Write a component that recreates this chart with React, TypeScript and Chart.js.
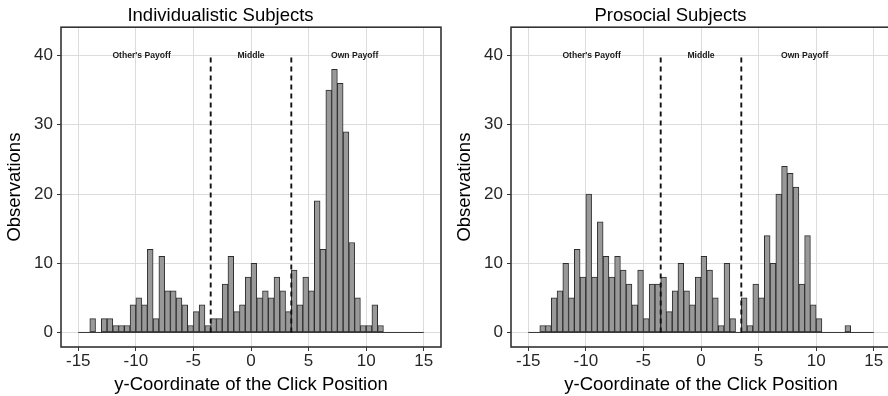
import React, { useEffect, useRef } from 'react';
import { Chart, registerables } from 'chart.js';

Chart.register(...registerables);

// ---- data ----
const binStart = -15;
const binWidth = 0.5;

// counts per 0.5-wide bin from -15 to 15 (60 bins)
const individualisticCounts = [
  0, 0, 2, 0, 2, 2, 1, 1, 1, 4,
  5, 4, 12, 2, 11, 6, 6, 5, 4, 1,
  3, 4, 1, 2, 2, 7, 11, 3, 4, 8,
  10, 5, 6, 5, 8, 6, 3, 9, 4, 8,
  6, 19, 12, 35, 38, 36, 29, 13, 5, 1,
  1, 4, 1, 0, 0, 0, 0, 0, 0, 0,
];

const prosocialCounts = [
  0, 0, 1, 1, 5, 6, 10, 5, 12, 8,
  20, 8, 16, 11, 8, 11, 9, 7, 4, 9,
  2, 7, 7, 8, 3, 6, 10, 6, 4, 8,
  11, 9, 5, 1, 10, 2, 0, 5, 1, 7,
  5, 14, 10, 20, 24, 23, 21, 7, 14, 4,
  2, 0, 0, 0, 0, 1, 0, 0, 0, 0,
];

const panelTitles = ['Individualistic Subjects', 'Prosocial Subjects'];
const xTitle = 'y-Coordinate of the Click Position';
const yTitle = 'Observations';

const dividerX = [-3.5, 3.5];
const dividerTop = 40.2;
const regionLabels = ["Other's Payoff", 'Middle', 'Own Payoff'];
const regionLabelX = [-9.5, 0, 9];
const regionLabelY = 40;

const xMin = -16.5;
const xMax = 16.5;
const xStep = 5;
const yMin = -2.1;
const yMax = 44.1;
const yStep = 10;

const FONT = '"Liberation Sans", Arial, Helvetica, sans-serif';

const decorPlugin = {
  id: 'panelDecor',
  afterDraw(chart: any) {
    const { ctx, chartArea } = chart;
    const x = chart.scales.x;
    const y = chart.scales.y;
    ctx.save();
    ctx.font = `bold 8.6px ${FONT}`;
    ctx.fillStyle = '#1a1a1a';
    ctx.textAlign = 'center';
    ctx.textBaseline = 'middle';
    regionLabels.forEach((t, i) => {
      ctx.fillText(t, x.getPixelForValue(regionLabelX[i]), y.getPixelForValue(regionLabelY));
    });
    ctx.strokeStyle = '#333';
    ctx.lineWidth = 1.6;
    ctx.strokeRect(chartArea.left, chartArea.top, chartArea.right - chartArea.left, chartArea.bottom - chartArea.top);
    ctx.restore();
  },
};

function makeConfig(title: string, counts: number[]): any {
  const bars = counts.map((v, i) => ({ x: binStart + binWidth * (i + 0.5), y: v }));
  const lastEdge = binStart + binWidth * counts.length;
  const dividerSets = dividerX.map((dx) => ({
    type: 'line',
    data: [{ x: dx, y: 0 }, { x: dx, y: dividerTop }],
    borderColor: '#111',
    borderWidth: 1.9,
    borderDash: [5, 4],
    pointRadius: 0,
    fill: false,
    tension: 0,
    order: 0,
  }));
  return {
    type: 'bar',
    data: {
      datasets: [
        ...dividerSets,
        {
          type: 'line',
          data: [{ x: binStart, y: 0 }, { x: lastEdge, y: 0 }],
          borderColor: '#333',
          borderWidth: 1,
          pointRadius: 0,
          fill: false,
          order: 1,
        },
        {
          type: 'bar',
          data: bars,
          backgroundColor: '#999999',
          borderColor: '#2e2e2e',
          borderWidth: 1,
          borderSkipped: false,
          barPercentage: 1,
          categoryPercentage: 1,
          order: 2,
        },
      ],
    },
    options: {
      responsive: false,
      animation: false,
      devicePixelRatio: 1,
      layout: { padding: { left: 0, right: 9, top: 0, bottom: 0 } },
      plugins: {
        legend: { display: false },
        tooltip: { enabled: false },
        title: {
          display: true,
          text: title,
          color: '#000',
          font: { family: FONT, size: 18.5, weight: 'normal', lineHeight: 1.2 },
          padding: { top: 5, bottom: 0 },
        },
      },
      scales: {
        x: {
          type: 'linear',
          min: xMin,
          max: xMax,
          offset: false,
          afterFit: (s: any) => { s.height = 49; },
          grid: { color: '#dcdcdc', tickColor: '#333', tickLength: 4, offset: false, lineWidth: 1 },
          border: { display: false },
          ticks: {
            stepSize: xStep,
            includeBounds: false,
            autoSkip: false,
            maxRotation: 0,
            padding: 0.5,
            color: '#262626',
            font: { family: FONT, size: 17 },
          },
          title: {
            display: true,
            text: xTitle,
            color: '#000',
            font: { family: FONT, size: 18.5, lineHeight: 1.2 },
            padding: { top: 0, bottom: 0 },
          },
        },
        y: {
          type: 'linear',
          min: yMin,
          max: yMax,
          afterFit: (s: any) => { s.width = 61; },
          grid: { color: '#dcdcdc', tickColor: '#333', tickLength: 4, lineWidth: 1 },
          border: { display: false },
          ticks: {
            stepSize: yStep,
            includeBounds: false,
            padding: 4,
            color: '#262626',
            font: { family: FONT, size: 17 },
          },
          title: {
            display: true,
            text: yTitle,
            color: '#000',
            font: { family: FONT, size: 18.5, lineHeight: 1.2 },
            padding: { top: 4, bottom: 0 },
          },
        },
      },
    },
    plugins: [decorPlugin],
  };
}

export default function App() {
  const leftRef = useRef<HTMLCanvasElement | null>(null);
  const rightRef = useRef<HTMLCanvasElement | null>(null);

  useEffect(() => {
    const charts: Chart[] = [];
    if (leftRef.current) charts.push(new Chart(leftRef.current, makeConfig(panelTitles[0], individualisticCounts)));
    if (rightRef.current) charts.push(new Chart(rightRef.current, makeConfig(panelTitles[1], prosocialCounts)));
    return () => charts.forEach((c) => c.destroy());
  }, []);

  return (
    <div style={{ position: 'absolute', left: 0, top: 0, width: 888, height: 396, overflow: 'hidden', background: '#fff' }}>
      <canvas ref={leftRef} width={450} height={396} style={{ position: 'absolute', left: 0, top: 0, width: 450, height: 396 }} />
      <canvas ref={rightRef} width={450} height={396} style={{ position: 'absolute', left: 450, top: 0, width: 450, height: 396 }} />
    </div>
  );
}
